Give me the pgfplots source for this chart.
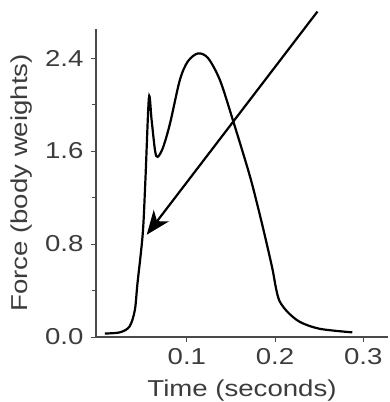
\documentclass[border=0pt]{standalone}
\usepackage{fontspec}
\setmainfont[FakeStretch=1.2]{Liberation Sans}
\usepackage{pgfplots}
\pgfplotsset{compat=1.18}
\usetikzlibrary{arrows.meta}
\definecolor{txt}{HTML}{3C3C3C}
\definecolor{axl}{HTML}{4A4A4A}
\begin{document}
\begin{tikzpicture}
\begin{axis}[
  scale only axis,
  width=292pt, height=308pt,
  xmin=-0.003, xmax=0.328,
  ymin=0, ymax=2.65,
  axis x line=bottom, axis y line=left,
  axis line style={-, color=axl, line width=2pt},
  xtick={0.1,0.2,0.3},
  ytick={0,0.8,1.6,2.4},
  minor ytick={0.4,1.2,2.0},
  yticklabel style={/pgf/number format/.cd, fixed, fixed zerofill, precision=1, /tikz/.cd, xshift=-4pt},
  xticklabel style={/pgf/number format/.cd, fixed, precision=1, /tikz/.cd, yshift=-3pt},
  /pgf/number format/assume math mode=true,
  tick align=outside,
  major tick length=5pt, minor tick length=4pt,
  tick style={color=axl, line width=1pt},
  ticklabel style={font=\fontsize{23}{26}\selectfont, color=txt},
  xlabel={Time (seconds)},
  ylabel={Force (body weights)},
  label style={font=\fontsize{23}{26}\selectfont, color=txt},
  xlabel style={yshift=-8pt},
  ylabel style={yshift=6pt},
  clip=false,
]
\addplot[black, line width=2.2pt, smooth, tension=0.5] coordinates {
(0.007,0.03) (0.024,0.04) (0.035,0.09) (0.041,0.23) (0.044,0.46)
(0.050,0.89) (0.053,1.35) (0.057,2.06) (0.060,1.87) (0.064,1.60)
(0.067,1.55) (0.073,1.63) (0.081,1.84) (0.092,2.21) (0.101,2.37)
(0.1125,2.44) (0.124,2.40) (0.1375,2.21) (0.152,1.87) (0.1716,1.38)
(0.185,0.98) (0.1966,0.60) (0.2010,0.42) (0.2050,0.31) (0.2136,0.22)
(0.228,0.13) (0.251,0.07) (0.2875,0.04)
};
\draw[black, line width=2.2pt, -{Stealth[length=24pt, width=19pt, inset=7pt]}]
  (axis cs:0.248,2.80) -- (axis cs:0.0545,0.88);
\end{axis}
\pgfresetboundingbox
\path (-96pt,-65pt) rectangle (294pt,337pt);
\end{tikzpicture}
\end{document}
